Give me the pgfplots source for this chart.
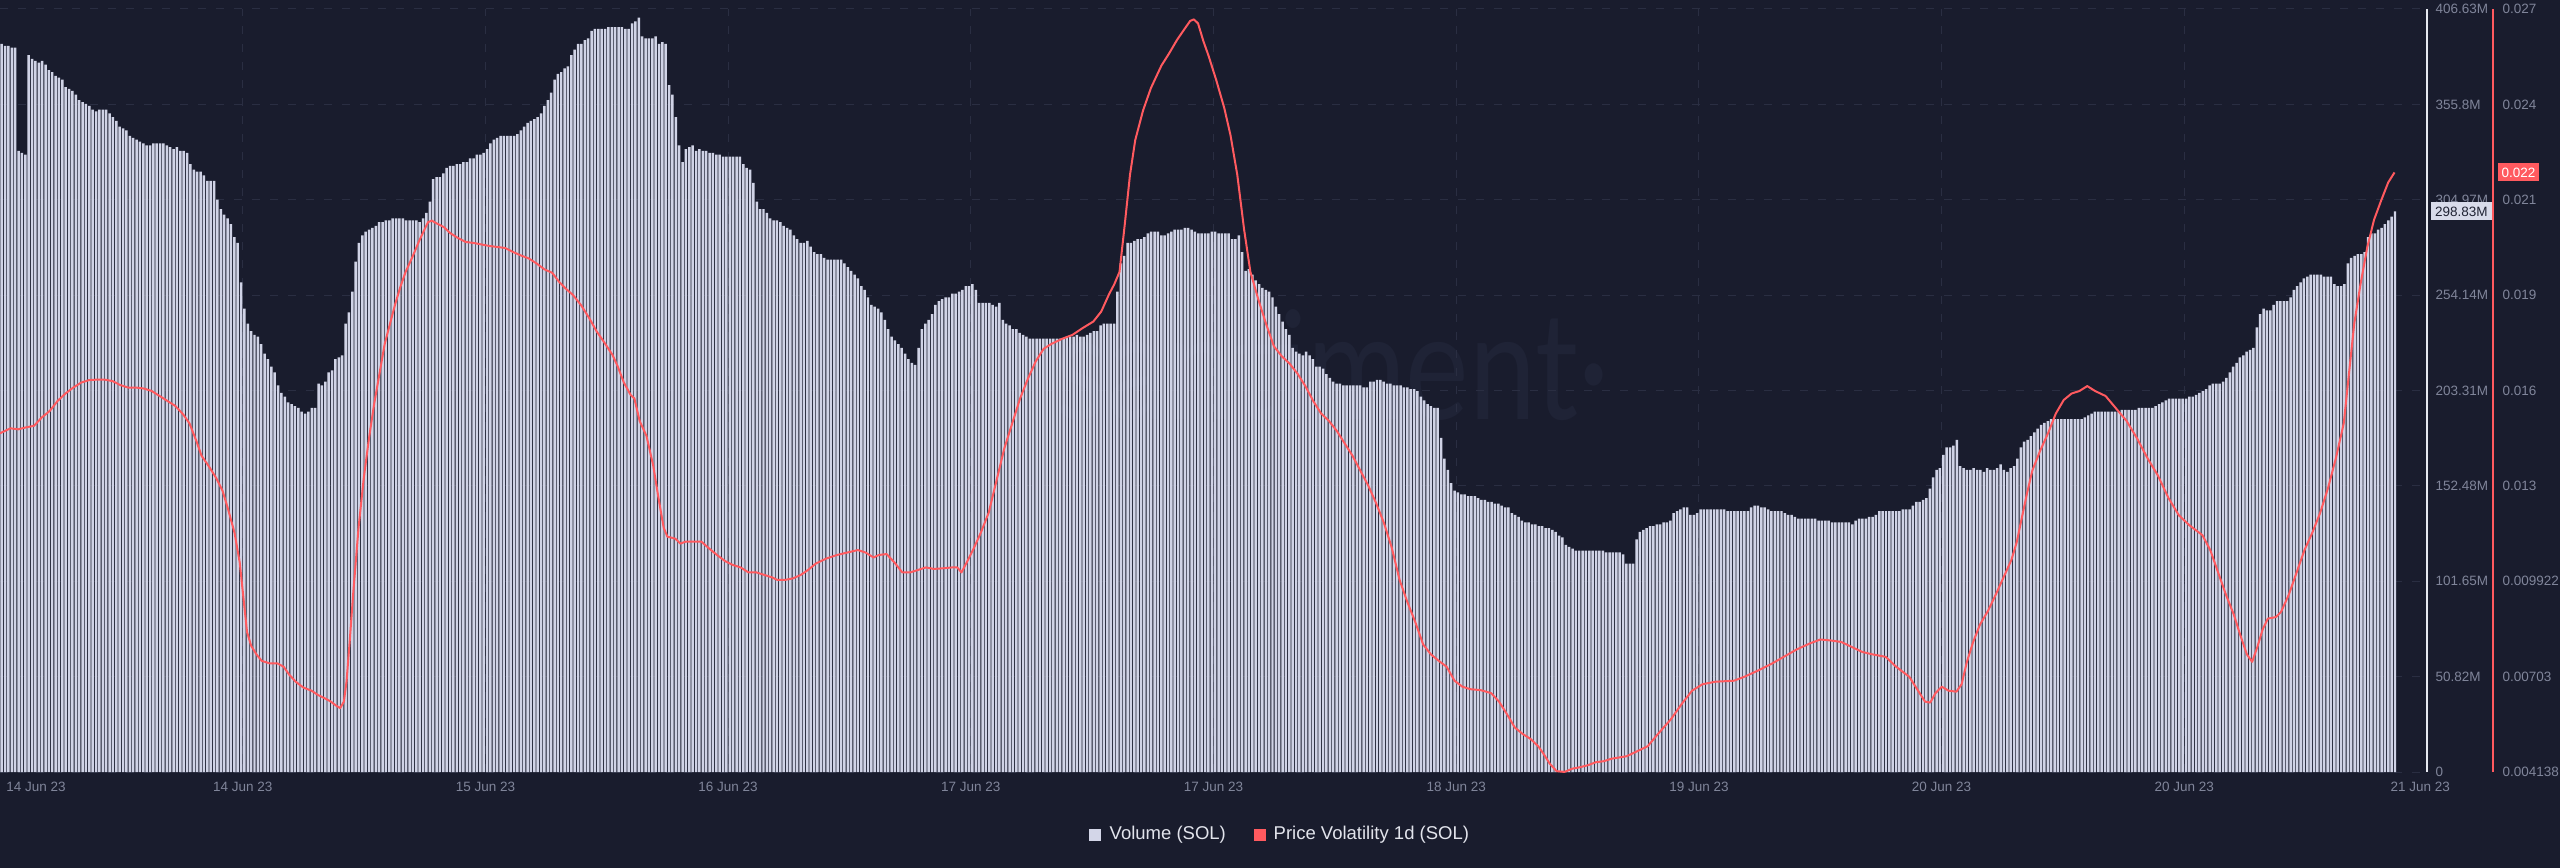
\documentclass[border=0pt]{standalone}
\usepackage{pgfplots}
\pgfplotsset{compat=1.18}
\usepackage{pgfplotstable}
\usepackage{graphicx}
\usepackage{fontspec}
\setmainfont{Liberation Sans}
\newfontfamily\wmfont{Lato}
\definecolor{bg}{HTML}{191C2D}
\definecolor{gridc}{HTML}{2A2E42}
\definecolor{barc}{HTML}{D0D3E6}
\definecolor{legbar}{HTML}{D3D6E8}
\definecolor{volc}{HTML}{FF5A5F}
\definecolor{tickc}{HTML}{80859A}
\definecolor{legc}{HTML}{E2E4EC}
\definecolor{wmc}{HTML}{1F2336}
\definecolor{axisw}{HTML}{E6E8F0}
\definecolor{tagc}{HTML}{D8DBEA}
\definecolor{tagt}{HTML}{1F2233}

\pgfplotstableread{
v
388
387
387
386
386
331
330
329
382
380
379
378
379
377
374
373
371
370
369
365
364
363
361
358
357
356
355
353
352
353
353
353
351
349
347
344
343
342
339
338
337
336
335
334
334
335
335
335
335
334
333
332
333
331
331
330
324
321
320
320
318
315
315
315
305
300
297
295
292
285
282
261
247
239
235
233
232
228
223
220
216
213
206
202
200
197
196
195
194
192
191
192
194
194
207
206
208
213
214
220
221
222
239
245
256
272
282
286
288
289
290
291
293
293
294
294
295
295
295
295
294
294
294
294
293
295
298
304
316
317
317
319
322
323
323
324
324
325
325
327
327
329
329
330
332
335
337
338
339
339
339
339
339
340
342
344
346
347
348
349
351
355
358
362
369
372
373
375
376
382
385
388
388
390
391
395
396
396
396
396
397
397
397
397
397
396
396
399
400
402
392
391
391
391
392
388
389
388
366
361
349
334
325
332
333
334
331
332
331
331
330
330
329
329
328
328
328
328
328
328
324
322
321
314
304
300
300
298
295
294
294
293
291
290
289
286
284
282
282
283
280
277
276
276
274
273
273
273
273
273
271
269
267
265
263
259
257
253
249
248
247
245
241
236
232
230
228
226
223
220
218
217
226
236
239
241
244
249
251
252
253
253
255
255
256
257
259
259
260
257
250
250
250
250
249
248
250
241
239
238
236
236
234
233
232
231
231
231
231
231
231
231
231
231
231
231
232
232
232
233
232
232
233
234
235
235
238
239
239
239
239
256
271
275
282
282
283
284
284
285
287
288
288
288
286
286
287
288
289
289
289
290
290
289
288
287
287
287
287
288
288
287
287
287
287
284
284
286
277
267
268
265
262
260
258
257
256
253
248
244
240
236
233
226
224
223
222
224
222
220
216
216
215
212
210
208
207
207
206
206
206
206
206
206
205
205
208
208
209
209
208
207
207
206
206
206
205
205
204
204
203
200
198
196
195
194
194
178
167
161
154
150
149
148
148
147
147
147
146
145
145
144
144
143
143
142
141
141
138
137
136
134
133
133
132
132
131
131
130
130
129
128
126
125
121
120
119
118
118
118
118
118
118
118
118
118
117
117
117
117
117
116
111
111
111
124
128
129
130
131
131
132
132
133
133
134
138
139
140
141
141
137
137
138
140
140
140
140
140
140
140
140
139
139
139
139
139
139
139
141
142
142
141
141
140
139
139
139
139
138
137
137
136
135
135
135
135
135
135
134
134
134
134
133
133
133
133
133
133
132
134
135
135
135
136
136
137
139
139
139
139
139
139
139
140
140
140
142
144
144
145
146
151
157
161
162
169
173
173
174
177
163
162
161
161
162
161
161
160
162
161
161
162
164
161
160
162
163
167
173
176
177
179
181
183
185
186
187
188
188
188
188
188
188
188
188
188
188
189
190
191
192
192
192
192
192
192
192
192
193
193
193
193
193
194
194
194
194
194
195
196
197
198
199
199
199
199
199
199
200
200
201
202
203
204
206
207
207
207
208
210
213
216
218
221
222
224
225
226
237
244
247
246
246
249
251
251
251
251
253
257
259
261
263
264
265
265
265
265
264
264
264
260
259
259
260
271
274
275
276
276
277
285
287
287
289
290
292
294
296
298.83
}\volume

\pgfplotstableread{
x y
0 0.014409
1.55 0.014484
3.11 0.014559
5.43 0.014529
7.76 0.014589
10.09 0.014635
12.42 0.01489
14.75 0.015086
17.08 0.015388
19.41 0.015614
21.74 0.015795
24.07 0.015945
26.40 0.016021
28.73 0.016036
31.06 0.016036
33.39 0.015991
35.71 0.01587
38.04 0.015795
40.37 0.015795
42.70 0.015765
45.03 0.01569
47.36 0.015539
49.69 0.015388
52.02 0.015237
54.35 0.014981
56.21 0.01471
58.23 0.014183
59.78 0.013731
62.11 0.013384
64.13 0.013053
65.99 0.012676
67.55 0.012149
69.57 0.011395
71.12 0.010491
72.20 0.009437
73.29 0.008382
74.53 0.00796
76.09 0.007704
77.64 0.007508
79.97 0.007433
82.30 0.007433
84.16 0.007328
85.71 0.007102
87.73 0.006876
90.06 0.006695
92.39 0.006604
94.41 0.006469
96.27 0.006378
98.14 0.006273
99.69 0.006152
100.93 0.006077
102.02 0.006273
102.80 0.006876
103.73 0.008081
104.81 0.009587
106.37 0.011546
107.92 0.013053
109.47 0.014258
111.02 0.015313
112.58 0.016217
114.13 0.01712
115.68 0.017723
117.24 0.018326
118.79 0.018853
120.34 0.019305
122.36 0.019757
124.22 0.020209
125.78 0.020556
127.02 0.020812
128.11 0.020857
129.66 0.020767
131.68 0.020661
133.54 0.020481
135.87 0.020329
138.20 0.020209
140.53 0.020179
142.86 0.020134
145.19 0.020088
147.52 0.020058
149.84 0.020028
152.17 0.019908
154.50 0.019802
156.83 0.019712
159.16 0.019561
161.49 0.01938
163.82 0.019275
165.84 0.019004
167.70 0.018808
170.03 0.018597
172.36 0.018296
174.69 0.017919
177.02 0.017497
179.35 0.017151
181.68 0.016789
183.23 0.016442
185.09 0.015945
187.11 0.015569
188.20 0.015463
189.75 0.014785
191.77 0.014333
193.79 0.013429
195.34 0.01245
196.89 0.011546
197.98 0.011275
200.31 0.011215
201.86 0.011064
203.42 0.011124
205.75 0.011124
208.07 0.011124
210.40 0.010913
212.73 0.010717
215.06 0.010537
217.39 0.010416
219.72 0.010341
222.05 0.01019
224.38 0.01019
226.71 0.010115
229.04 0.010039
230.59 0.009964
232.92 0.009964
235.25 0.010009
237.58 0.010115
239.73 0.010265
242.06 0.010461
245.16 0.010612
248.27 0.010717
251.38 0.010793
254.48 0.010868
256.81 0.010793
259.14 0.010642
260.69 0.010717
263.02 0.010747
265.35 0.010492
267.68 0.01019
270.01 0.01019
272.34 0.010265
274.67 0.010341
277.00 0.010296
279.33 0.010311
282.43 0.010341
283.98 0.010341
285.23 0.01019
286.78 0.010492
288.64 0.010868
290.97 0.011395
293.30 0.011998
295.63 0.012977
297.96 0.013957
300.29 0.01471
302.62 0.015463
304.95 0.016066
307.28 0.016593
309.61 0.01697
311.93 0.01712
315.04 0.017271
318.15 0.017392
321.25 0.017603
324.36 0.017798
326.69 0.0181
329.02 0.018627
330.57 0.018928
332.12 0.019305
333.67 0.020736
335.22 0.022243
336.78 0.023298
339.11 0.024201
341.44 0.024879
344.54 0.025557
346.87 0.025934
349.20 0.026341
351.53 0.026687
353.08 0.026913
354.17 0.026959
355.41 0.026838
356.96 0.026311
358.52 0.025859
360.85 0.025105
363.18 0.024277
365.04 0.023448
367.06 0.022243
369.08 0.020586
370.94 0.019305
373.27 0.018476
375.60 0.017723
377.93 0.017045
380.26 0.016744
382.59 0.016518
384.92 0.016217
387.25 0.01584
389.58 0.015388
391.90 0.015011
394.23 0.014785
396.56 0.014484
398.89 0.014107
401.22 0.013731
403.55 0.013279
405.88 0.012827
408.21 0.012299
410.54 0.011697
412.87 0.010943
415.20 0.009964
417.53 0.009286
419.86 0.008684
422.19 0.008006
424.51 0.007704
426.84 0.007508
429.17 0.007328
431.50 0.006906
433.83 0.006725
436.16 0.00665
439.27 0.00662
442.37 0.006529
444.70 0.006273
447.03 0.005897
449.36 0.00549
451.69 0.005294
454.02 0.005143
456.35 0.004917
457.90 0.004691
459.76 0.00439
461.78 0.004164
464.11 0.00414
466.44 0.004239
468.77 0.004284
471.10 0.004345
473.43 0.004435
475.75 0.004465
478.08 0.004541
482.56 0.004616
485.67 0.004767
488.78 0.004917
491.88 0.005294
495.76 0.005746
498.87 0.006198
501.97 0.006604
505.08 0.0068
508.96 0.006876
514.40 0.006906
517.50 0.007026
521.38 0.007207
525.27 0.007403
529.15 0.007629
533.03 0.007855
536.91 0.008036
540.02 0.008156
543.12 0.008126
546.23 0.008081
549.33 0.00793
552.44 0.007779
555.54 0.007704
559.43 0.007629
562.53 0.007328
566.41 0.007026
568.74 0.00665
571.07 0.006273
572.63 0.006243
574.18 0.006529
576.04 0.006725
578.06 0.006604
580.39 0.006574
581.94 0.0068
583.50 0.007478
585.36 0.008081
587.38 0.008608
589.71 0.009015
592.04 0.009512
594.37 0.010039
596.70 0.010567
598.25 0.011094
599.80 0.011847
601.36 0.012601
602.91 0.013279
605.24 0.013881
607.57 0.014409
609.90 0.015011
612.23 0.015418
614.55 0.015614
616.88 0.01569
619.21 0.01584
621.54 0.01569
624.65 0.015539
627.75 0.015162
630.86 0.014785
633.96 0.014258
637.07 0.013655
640.17 0.013128
643.28 0.01245
646.38 0.011923
649.49 0.011622
653.37 0.01132
655.70 0.010868
658.03 0.01019
660.36 0.009512
662.69 0.00891
664.55 0.008307
666.57 0.007704
668.12 0.007478
669.67 0.00793
671.23 0.008458
672.78 0.008789
675.11 0.008834
676.66 0.008985
678.99 0.009512
681.32 0.01019
683.65 0.010868
685.98 0.011395
688.31 0.011998
690.64 0.012751
692.97 0.013655
695.30 0.01471
696.85 0.016217
698.40 0.017723
700.27 0.018928
702.29 0.020058
704.30 0.020887
706.48 0.02149
708.50 0.022017
710.36 0.022318
}\volat

\begin{document}
\begin{tikzpicture}
\begin{scope}[x=0.3pt,y=0.3pt]
\fill[bg] (-20,-20) rectangle (2580,887);
\node[anchor=base east, text=wmc, inner sep=0pt] at (1610,447)
  {\scalebox{0.8}[1]{\wmfont\fontsize{45}{50}\selectfont santiment·}};
\end{scope}

\begin{axis}[
  at={(0pt,28.5pt)}, anchor=south west,
  scale only axis, width=728.1pt, height=228.9pt,
  xmin=0, xmax=720, ymin=0, ymax=406.63,
  scaled ticks=false,
  axis x line*=bottom, axis y line*=right,
  x axis line style={draw=none},
  y axis line style={draw=axisw, line width=0.35pt},
  xtick={72,144,216,288,360,432,504,576,648},
  xticklabels={14 Jun 23,15 Jun 23,16 Jun 23,17 Jun 23,17 Jun 23,18 Jun 23,19 Jun 23,20 Jun 23,20 Jun 23},
  extra x ticks={10.7,718},
  extra x tick labels={14 Jun 23,21 Jun 23},
  extra x tick style={grid=none},
  ytick={0,50.82,101.65,152.48,203.31,254.14,304.97,355.8,406.63},
  yticklabels={0,50.82M,101.65M,152.48M,203.31M,254.14M,304.97M,355.8M,406.63M},
  major tick length=0pt,
  xmajorgrids, ymajorgrids,
  major grid style={draw=gridc, line width=0.3pt, dash pattern=on 2.4pt off 3pt},
  tick label style={font=\fontsize{4.05}{4.5}\selectfont, text=tickc},
  xticklabel style={anchor=center, yshift=-4.5pt},
  yticklabel style={anchor=west, inner sep=0pt, xshift=2.4pt},
  clip mode=individual,
  ybar, bar width=0.74,
]
\addplot[draw=none, fill=barc] table[x expr=\coordindex+0.5, y=v] {\volume};
\node[fill=tagc, text=tagt, anchor=west, inner xsep=1.3pt, inner ysep=1.2pt,
      text height=3pt, text depth=0pt, xshift=0.9pt,
      font=\fontsize{4.05}{4.5}\selectfont] at (axis cs:720,298.83) {298.83M};
\end{axis}

\begin{axis}[
  at={(0pt,28.5pt)}, anchor=south west,
  scale only axis, width=747.9pt, height=228.9pt,
  xmin=0, xmax=739.58, ymin=0.004138, ymax=0.027274,
  scaled ticks=false, scaled y ticks=false,
  axis x line=none, axis y line*=right,
  y axis line style={draw=volc, line width=0.35pt},
  ytick={0.004138,0.00703,0.009922,0.012814,0.015706,0.018598,0.02149,0.024382,0.027274},
  yticklabels={0.004138,0.00703,0.009922,0.013,0.016,0.019,0.021,0.024,0.027},
  major tick length=0pt,
  tick label style={font=\fontsize{4.05}{4.5}\selectfont, text=tickc},
  yticklabel style={anchor=west, inner sep=0pt, xshift=2.7pt},
  clip mode=individual,
]
\addplot[volc, line width=0.6pt, line join=round] table[x=x, y=y] {\volat};
\node[fill=volc, text=white, anchor=west, inner xsep=1.2pt, inner ysep=1.2pt,
      text height=3pt, text depth=0pt, xshift=1.2pt,
      font=\fontsize{4.05}{4.5}\selectfont] at (axis cs:739.58,0.02232) {0.022};
\end{axis}

\begin{scope}[x=0.3pt,y=0.3pt]
\fill[legbar] (1089,26) rectangle (1101,38);
\node[anchor=west, inner sep=0pt, text=legc, font=\fontsize{5.55}{6.5}\selectfont] at (1109,32) {Volume (SOL)};
\fill[volc] (1254,26) rectangle (1266,38);
\node[anchor=west, inner sep=0pt, text=legc, font=\fontsize{5.55}{6.5}\selectfont] at (1273,32) {Price Volatility 1d (SOL)};
\end{scope}
\pgfresetboundingbox
\path[use as bounding box] (0pt,0pt) rectangle (768pt,260.1pt);
\end{tikzpicture}
\end{document}
